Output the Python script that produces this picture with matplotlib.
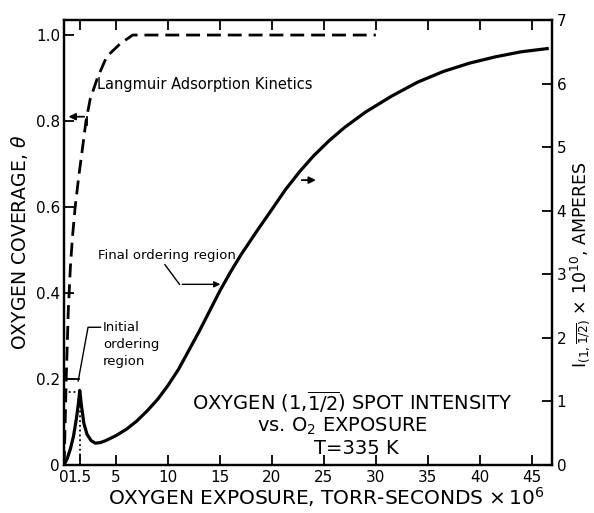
#!/usr/bin/env python3
"""
Oxygen coverage and (1,1/2) spot intensity vs O2 exposure.
"""
import matplotlib
matplotlib.use("Agg")
import matplotlib.pyplot as plt

plt.rcParams['font.family'] = 'DejaVu Sans'
plt.rcParams['mathtext.fontset'] = 'dejavusans'

# Langmuir adsorption kinetics (left axis, coverage theta)
langmuir_x = [0, 0.2, 0.4, 0.6, 0.8, 1.06, 1.4, 1.73, 2.1, 2.5, 3.2, 4.1, 5.4, 6.6, 30]
langmuir_theta = [0, 0.2, 0.36, 0.46, 0.53, 0.6, 0.67, 0.73, 0.8, 0.85, 0.9, 0.95, 0.98, 1.0, 1.0]

# Spot intensity (right axis, amperes x 1e10)
spot_x = [0, 0.3, 0.6, 0.9, 1.2, 1.4, 1.5, 1.65, 1.9, 2.2, 2.6, 3.0, 3.5, 4, 5, 6, 7,
          8, 9, 10, 11, 12, 13, 14, 15, 16, 17, 18.6, 20, 21.3, 22.7, 24, 25.5, 27,
          29, 31.5, 34, 36.5, 39, 41.5, 44, 46.5]
spot_i = [0, 0.1, 0.25, 0.45, 0.75, 1.0, 1.17, 0.95, 0.65, 0.48, 0.38, 0.34, 0.35,
          0.38, 0.46, 0.56, 0.69, 0.85, 1.03, 1.25, 1.5, 1.8, 2.1, 2.42, 2.74, 3.03,
          3.3, 3.69, 4.02, 4.33, 4.62, 4.86, 5.1, 5.31, 5.55, 5.8, 6.02, 6.19, 6.32,
          6.42, 6.5, 6.55]

x_ticks = [0, 1.5, 5, 10, 15, 20, 25, 30, 35, 40, 45]
x_ticklabels = ['0', '1.5', '5', '10', '15', '20', '25', '30', '35', '40', '45']
theta_ticks = [0, 0.2, 0.4, 0.6, 0.8, 1.0]
theta_ticklabels = ['0', '0.2', '0.4', '0.6', '0.8', '1.0']
amp_ticks = [0, 1, 2, 3, 4, 5, 6, 7]

peak_x = 1.5
peak_theta = 0.17

fig = plt.figure(figsize=(5.94, 5.13), dpi=100)
ax = fig.add_axes([0.108, 0.094, 0.822, 0.867])
ax2 = ax.twinx()

ax.set_xlim(0, 47)
ax.set_ylim(0, 1.035)
ax2.set_ylim(0, 7)

for a in (ax, ax2):
    for s in a.spines.values():
        s.set_linewidth(1.6)

# curves
ax.plot(langmuir_x, langmuir_theta, color='black', lw=2.0,
        linestyle=(0, (5, 2.5)), solid_capstyle='butt')
ax2.plot(spot_x, spot_i, color='black', lw=2.3)

# dotted guides at the first peak
ax.plot([0, peak_x], [peak_theta, peak_theta], color='black', lw=1.3, linestyle=':')
ax.plot([peak_x, peak_x], [0, peak_theta], color='black', lw=1.3, linestyle=':')
ax.plot([0, 1.4], [0.2, 0.2], color='black', lw=1.3)

# ticks
ax.set_xticks(x_ticks)
ax.set_xticklabels(x_ticklabels)
ax.set_yticks(theta_ticks)
ax.set_yticklabels(theta_ticklabels)
ax2.set_yticks(amp_ticks)
ax.tick_params(axis='both', direction='in', length=7, width=1.3, labelsize=11, pad=3)
ax.tick_params(axis='x', top=True, pad=4)
ax2.tick_params(axis='y', direction='in', length=7, width=1.3, labelsize=11, pad=3)

# axis labels
ax.set_xlabel(r'OXYGEN EXPOSURE, TORR-SECONDS $\times\,10^{6}$', fontsize=14.5)
ax.xaxis.set_label_coords(0.537, -0.045)
ax.set_ylabel(r'OXYGEN COVERAGE, $\theta$', fontsize=13.5, labelpad=4)
ax2.set_ylabel(r'I$_{(1,\overline{1/2})}$ $\times$ 10$^{10}$, AMPERES', fontsize=12.5)
ax2.yaxis.set_label_coords(1.033, 0.45)

# annotations
ax.text(3.2, 0.885, 'Langmuir Adsorption Kinetics', fontsize=10.5, ha='left', va='center')
ax.annotate('', xy=(0.15, 0.81), xytext=(2.2, 0.81),
            arrowprops=dict(arrowstyle='-|>', color='black', lw=1.3, mutation_scale=10))
ax.plot([2.2, 2.2], [0.81, 0.79], color='black', lw=1.3)

ax.text(3.75, 0.32, 'Initial', fontsize=9.5, ha='left', va='center')
ax.text(3.75, 0.28, 'ordering', fontsize=9.5, ha='left', va='center')
ax.text(3.75, 0.24, 'region', fontsize=9.5, ha='left', va='center')
ax.plot([3.5, 2.3, 1.35], [0.32, 0.32, 0.195], color='black', lw=1.0)

ax2.text(9.9, 3.3, 'Final ordering region', fontsize=9.5, ha='center', va='center')
ax2.plot([9.7, 11.1], [3.15, 2.84], color='black', lw=1.0)
ax2.annotate('', xy=(15.3, 2.84), xytext=(11.1, 2.84),
             arrowprops=dict(arrowstyle='-|>', color='black', lw=1.0, mutation_scale=9))

ax2.annotate('', xy=(24.5, 4.48), xytext=(22.6, 4.48),
             arrowprops=dict(arrowstyle='-|>', color='black', lw=1.3, mutation_scale=10))

ax2.text(27.7, 1.0, r'OXYGEN (1,$\overline{1/2}$) SPOT INTENSITY', fontsize=14,
         ha='center', va='center')
ax2.text(26.8, 0.6, r'vs. O$_2$ EXPOSURE', fontsize=14, ha='center', va='center')
ax2.text(28.1, 0.25, 'T=335 K', fontsize=14, ha='center', va='center')

fig.savefig('out.png', dpi=100)
